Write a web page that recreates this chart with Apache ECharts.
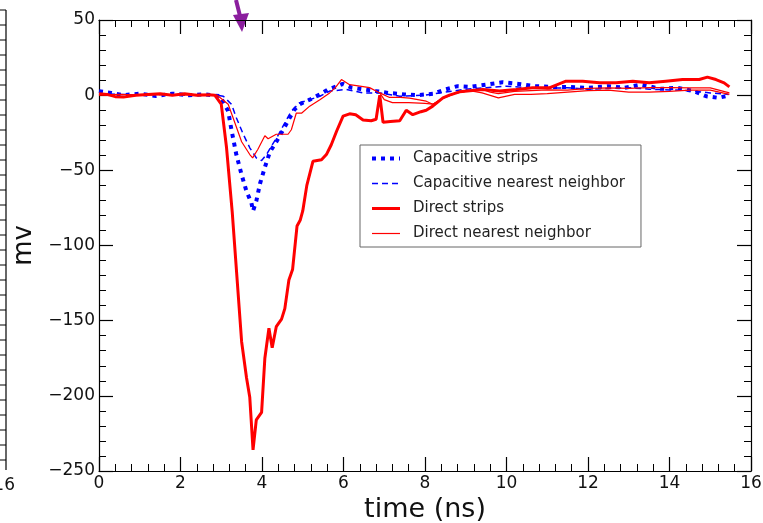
<!DOCTYPE html>
<html>
<head>
<meta charset="utf-8">
<script src="https://cdn.jsdelivr.net/npm/echarts@6/dist/echarts.min.js"></script>
<style>
  html, body { margin: 0; padding: 0; background: #fff; }
  #chart { width: 763px; height: 523px; }
</style>
</head>
<body>
<div id="chart"></div>
<script>
// 读图估计的数据 (time in ns, signal in mV)
var seriesNames = ['Capacitive strips', 'Capacitive nearest neighbor', 'Direct strips', 'Direct nearest neighbor'];

var capStripsT = [0, 0.3, 0.6, 1, 1.4, 1.8, 2.2, 2.6, 2.97, 3.17, 3.25, 3.37, 3.5, 3.62, 3.74, 3.78, 3.86, 3.95,
  4.07, 4.19, 4.36, 4.52, 4.68, 4.8, 4.93, 5.17, 5.42, 5.62, 5.85, 5.98, 6.2, 6.5, 6.8, 7.1, 7.5, 7.8,
  8.2, 8.5, 8.8, 9.1, 9.5, 9.9, 10.3, 10.7, 11.1, 11.5, 12.0, 12.5, 12.9, 13.3, 13.8, 14.2, 14.6, 14.9, 15.2, 15.45];
var capStripsV = [2.7, 1.5, 0, 1, -0.5, 1, 0, 0.5, -0.7, -10.6, -23, -39.5, -53, -64, -71.6, -77, -70.5, -59,
  -48, -38, -30.6, -23, -15, -9.5, -6, -3, 0.5, 3.8, 6, 7.5, 5, 3.8, 2.7, 1.5, 0.5, 0,
  0.9, 3.8, 6, 5.5, 7, 8.6, 7.5, 6, 5.5, 5.5, 4.9, 6, 4.9, 7, 4.2, 4.9, 2.7, -0.7, -1.8, -0.2];

var capNeighT = [0, 0.5, 1, 1.5, 2, 2.5, 2.9, 3.05, 3.25, 3.37, 3.54, 3.7, 3.86, 3.99,
  4.11, 4.23, 4.39, 4.56, 4.72, 4.93, 5.17, 5.42, 5.66, 6.07, 6.48, 6.89, 7.38,
  8, 8.5, 9, 9.5, 10, 10.5, 11, 11.5, 12, 12.5, 13, 13.5, 14, 14.5, 15, 15.45];
var capNeighV = [1, 0.5, 0, 0.5, 0, 0, 0, -0.7, -6, -15, -26, -35, -41.7, -43.5,
  -39.5, -34, -27, -18.4, -10.6, -5, -3, -0.7, 2.7, 3.8, 1.5, 1.5, -0.7,
  0, 2, 4, 5, 6, 5, 4.5, 5, 4, 4.5, 5, 4, 3.5, 3, 1.5, 0.5];

var dirStripsT = [0, 0.2, 0.4, 0.6, 0.9, 1.2, 1.5, 1.8, 2.1, 2.4, 2.7, 2.84,
  3.0, 3.13, 3.27, 3.5, 3.62, 3.7, 3.78, 3.86, 3.99, 4.07,
  4.17, 4.25, 4.35, 4.48, 4.56, 4.66, 4.75, 4.86, 4.94, 5.0,
  5.1, 5.25, 5.46, 5.58, 5.7, 5.83, 5.99, 6.15, 6.3, 6.48,
  6.68, 6.8, 6.89, 6.97, 7.15, 7.38, 7.54, 7.7, 7.9, 8.03,
  8.19, 8.44, 8.6, 8.85, 9.1, 9.42, 9.83, 10.24, 10.64, 11.05,
  11.46, 11.87, 12.28, 12.69, 13.1, 13.5, 13.91, 14.32, 14.73, 14.93,
  15.14, 15.34, 15.47];
var dirStripsV = [1, 0.5, -1, -1.3, 0, 0.5, 1, 0, 0.9, 0, 0.3, 0,
  -6, -35, -78, -164, -188, -201, -236, -216, -211, -175,
  -155, -168, -154, -149, -142, -123, -116, -87, -83, -77,
  -60, -44, -43, -39.5, -33, -24, -14, -12.4, -13, -16.5,
  -17, -16, 0, -18, -17.5, -17, -10, -13, -11, -10,
  -7.3, -1.8, 0, 2.2, 3, 3.8, 2.7, 3.8, 4.9, 4.9,
  9.3, 9.3, 8.2, 8.2, 9.3, 8.2, 9.3, 10.4, 10.4, 12,
  10.4, 8.2, 5.5];

// two neighbour traces share one legend entry
var dirNeighT = [0, 0.5, 1, 1.5, 2, 2.5, 2.9, 3.17, 3.29, 3.5, 3.7, 3.77, 3.9, 4.07, 4.15,
  4.35, 4.48, 4.64, 4.72, 4.84, 4.97, 5.17, 5.42, 5.66, 5.8,
  5.95, 6.15, 6.4, 6.64, 6.89, 7.13, 7.4, 7.62, 8.03, 8.19,
  8.44, 8.77, 9.1, 9.4, 9.8, 10.2, 10.6, 11.0, 11.5, 12.0,
  12.5, 13.0, 13.5, 14.0, 14.5, 15.0, 15.47];
var dirNeighV = [0, 0.5, 0, 0.5, 0, 0.5, 0, -6, -15, -31, -39.5, -41.7, -36, -27, -29,
  -26, -26, -26, -23, -12, -12, -7.3, -3, 1.5, 5,
  10.4, 7, 6, 5, 1.5, -1.5, -1.5, -2, -4, -6,
  -2, 1.5, 3, 1.5, -1.8, 0.5, 0.5, 1, 2, 3,
  3.3, 2, 2, 2.5, 3.3, 3.3, 0.5];
var dirNeigh2T = [6.89, 7.0, 7.2, 7.6, 8.0, 8.19, 8.44, 8.77, 9.1, 9.4, 9.6, 9.8,
  10.2, 10.6, 11.0, 11.5, 12.0, 12.5, 13.0, 13.5, 14.0, 14.5, 15.0, 15.47];
var dirNeigh2V = [1.5, -3, -5, -5, -5.5, -6, -2, 1.5, 3, 3.8, 2, 1,
  2.5, 3, 3.5, 3.3, 4.5, 4.9, 4.5, 5, 5, 4.9, 4.9, 1.5];

function zip(ts, vs) {
  return ts.map(function (t, i) { return [t, vs[i]]; });
}

var font = 'DejaVu Sans';
var blue = '#0000ff', red = '#ff0000';

var styles = [
  { color: blue, width: 4, type: [4, 5], cap: 'butt' },
  { color: blue, width: 1.5, type: [6, 4] },
  { color: red, width: 3, type: 'solid' },
  { color: red, width: 1.2, type: 'solid' }
];

function axisBase() {
  return {
    type: 'value',
    axisLine: { show: true, onZero: false, lineStyle: { color: '#000', width: 1.2 } },
    axisTick: { show: true, inside: true, length: 14, lineStyle: { color: '#000', width: 1.2 } },
    minorTick: { show: true, splitNumber: 5, length: 7, lineStyle: { color: '#000', width: 1 } },
    splitLine: { show: false },
    minorSplitLine: { show: false }
  };
}
var minus = function (v) { return String(v).replace('-', '\u2212'); };

var xMain = Object.assign(axisBase(), {
  min: 0, max: 16, interval: 2, position: 'bottom',
  axisLabel: { color: '#111', fontSize: 17, fontFamily: font, margin: 4 },
  name: 'time (ns)', nameLocation: 'middle', nameGap: 22,
  nameTextStyle: { color: '#111', fontSize: 27, fontFamily: font }
});
var xTop = Object.assign(axisBase(), {
  min: 0, max: 16, interval: 2, position: 'top', axisLabel: { show: false }
});
var yMain = Object.assign(axisBase(), {
  min: -250, max: 50, interval: 50, position: 'left',
  axisLabel: { color: '#111', fontSize: 17, fontFamily: font, margin: 4, formatter: minus },
  name: 'mv', nameLocation: 'middle', nameGap: 50,
  nameTextStyle: { color: '#111', fontSize: 26, fontFamily: font }
});
var yRight = Object.assign(axisBase(), {
  min: -250, max: 50, interval: 50, position: 'right', axisLabel: { show: false }
});

function lineSeries(name, data, style) {
  return {
    name: name, type: 'line', data: data, symbol: 'none', smooth: false,
    animation: false, lineStyle: style, itemStyle: { color: style.color }
  };
}

// 左侧相邻面板的残边
var graphics = [{
  type: 'line', shape: { x1: 6, y1: 10, x2: 6, y2: 470 },
  style: { stroke: '#000', lineWidth: 1.2 }
}];
for (var gy = 10; gy <= 470; gy += 15) {
  graphics.push({
    type: 'line', shape: { x1: 0, y1: gy, x2: 6, y2: gy },
    style: { stroke: '#000', lineWidth: 1 }
  });
}
graphics.push({
  type: 'text', x: 15, y: 477,
  style: { text: '16', fill: '#111', font: '17px "DejaVu Sans"', align: 'right', verticalAlign: 'top' }
});
// 紫色箭头
graphics.push({
  type: 'line', shape: { x1: 236, y1: 0, x2: 240.5, y2: 18 },
  style: { stroke: '#8b1e9e', lineWidth: 4 }
});
graphics.push({
  type: 'polygon', shape: { points: [[233, 15], [249, 13], [242, 32]] },
  style: { fill: '#8b1e9e' }
});

var legendData = seriesNames.map(function (n, i) {
  return { name: n, itemStyle: { opacity: 0 }, lineStyle: styles[i] };
});

var chart = echarts.init(document.getElementById('chart'));
chart.setOption({
  animation: false,
  backgroundColor: '#fff',
  grid: { left: 99, right: 12, top: 20, bottom: 52, containLabel: false, outerBoundsMode: 'none' },
  xAxis: [xMain, xTop],
  yAxis: [yMain, yRight],
  legend: {
    data: legendData,
    orient: 'vertical', left: 360, top: 145,
    itemWidth: 28, itemHeight: 14, itemGap: 10,
    padding: [6, 16, 6, 10],
    backgroundColor: '#fff', borderColor: '#666', borderWidth: 1, borderRadius: 0,
    selectedMode: false,
    itemStyle: { opacity: 0 },
    textStyle: { fontFamily: font, fontSize: 15, color: '#222', padding: [0, 0, 0, 8] }
  },
  graphic: graphics,
  series: [
    lineSeries(seriesNames[0], zip(capStripsT, capStripsV), styles[0]),
    lineSeries(seriesNames[1], zip(capNeighT, capNeighV), styles[1]),
    lineSeries(seriesNames[2], zip(dirStripsT, dirStripsV), styles[2]),
    lineSeries(seriesNames[3], zip(dirNeighT, dirNeighV), styles[3]),
    lineSeries(seriesNames[3], zip(dirNeigh2T, dirNeigh2V), styles[3])
  ]
});
</script>
</body>
</html>
